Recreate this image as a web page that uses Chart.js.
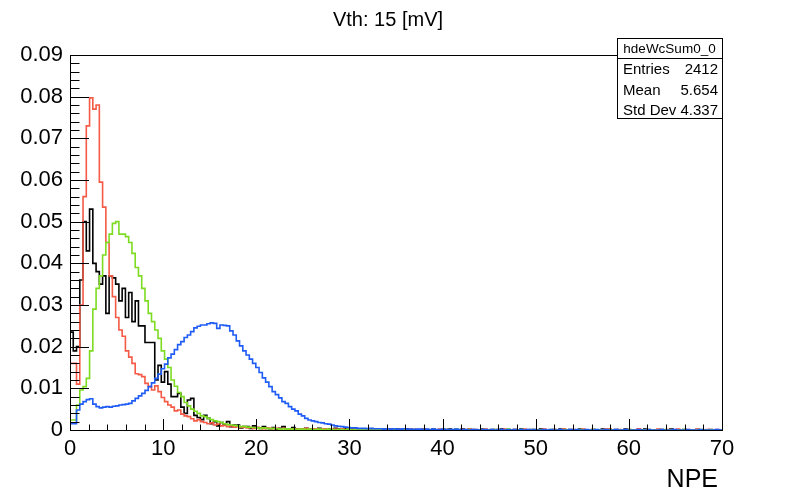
<!DOCTYPE html>
<html>
<head>
<meta charset="utf-8">
<script src="https://cdn.jsdelivr.net/npm/chart.js@4.4.0/dist/chart.umd.min.js"></script>
<style>
  html, body { margin: 0; padding: 0; background: #fff; }
  #wrap { position: relative; width: 786px; height: 492px; }
</style>
</head>
<body>
<div id="wrap"><canvas id="c" width="786" height="492"></canvas></div>
<script>
'use strict';

// histogram binning (200 bins from 0 to 70 NPE)
var binWidth = 0.35;
var xMax = 70;
var yMax = 0.09;

var xTickLabels = ['0', '10', '20', '30', '40', '50', '60', '70'];
var yTickLabels = ['0', '0.01', '0.02', '0.03', '0.04', '0.05', '0.06', '0.07', '0.08', '0.09'];

var statsName = 'hdeWcSum0_0';
var statsLabels = ['Entries', 'Mean', 'Std Dev'];
var statsValues = ['2412', '5.654', '4.337'];

// bin contents
var blackBins = [
	0.0235, 0.019, 0.020, 0.036, 0.050, 0.043, 0.053, 0.040, 0.038, 0.035,
	0.037, 0.028, 0.037, 0.0365, 0.035, 0.031, 0.034, 0.027, 0.033, 0.026,
	0.031, 0.025, 0.025, 0.021, 0.021, 0.021, 0.012, 0.0155, 0.0115, 0.014,
	0.011, 0.008, 0.008, 0.0088, 0.0055, 0.004, 0.0072, 0.0076, 0.0035, 0.003,
	0.0025, 0.0035, 0.0028, 0.0015, 0.002, 0.001, 0.0018, 0.0012, 0.002, 0.0008,
	0.0012, 0.0012, 0.0005, 0.0008, 0.0008, 0.0004, 0.001, 0.0006, 0.0004, 0.0008,
	0.0004, 0.0003, 0.0006, 0.0002, 0.0004, 0.0008, 0.0002, 0.0003, 0.0006, 0.0002,
	0.0003, 0.0002, 0.0004, 0, 0.0003, 0.0002, 0.0004, 0, 0.0002, 0.0003,
	0, 0.0004, 0.0002, 0, 0.0003, 0, 0.0002, 0.0004, 0, 0.0002,
	0, 0.0002, 0, 0.0003, 0, 0, 0.0002, 0, 0.0002, 0,
	0.0002, 0, 0, 0.0002, 0, 0.0001, 0, 0, 0.0002, 0,
	0, 0.0002, 0, 0, 0.0001, 0, 0.0002, 0, 0, 0,
	0.0002, 0, 0, 0.0001, 0, 0, 0.0002, 0, 0, 0.0001,
	0, 0, 0.0002, 0, 0, 0, 0.0001, 0, 0.0002, 0,
	0, 0.0001, 0, 0, 0.0002, 0, 0, 0, 0.0001, 0,
	0.0002, 0, 0, 0.0001, 0, 0, 0.0002, 0, 0, 0,
	0.0001, 0, 0, 0.0002, 0, 0, 0, 0.0001, 0, 0,
	0.0002, 0, 0, 0, 0.0001, 0, 0.0002, 0, 0, 0,
	0, 0.0001, 0, 0, 0.0002, 0, 0, 0, 0.0001, 0,
	0, 0, 0.0001, 0, 0, 0, 0.0001, 0, 0, 0
];

var redBins = [
	0.016, 0.016, 0.011, 0.030, 0.056, 0.073, 0.0797, 0.077, 0.078, 0.0595,
	0.0535, 0.045, 0.037, 0.032, 0.027, 0.024, 0.0225, 0.019, 0.0175, 0.016,
	0.0135, 0.0133, 0.0128, 0.0112, 0.0104, 0.0096, 0.0106, 0.0092, 0.0078, 0.0068,
	0.0060, 0.0055, 0.0046, 0.0048, 0.0038, 0.0034, 0.0032, 0.0027, 0.0022, 0.0025,
	0.0020, 0.0018, 0.0015, 0.0017, 0.0012, 0.0014, 0.0010, 0.0011, 0.0008, 0.0010,
	0.0007, 0.0008, 0.0006, 0.0007, 0.0005, 0.0006, 0.0004, 0.0006, 0.0004, 0.0003,
	0.0005, 0.0004, 0.0003, 0.0004, 0.0002, 0.0004, 0.0003, 0.0002, 0.0003, 0.0002,
	0.0003, 0.0002, 0.0004, 0.0002, 0.0002, 0.0003, 0.0001, 0.0002, 0.0003, 0.0001,
	0.0002, 0.0002, 0.0001, 0.0003, 0.0001, 0.0002, 0.0001, 0.0002, 0.0001, 0.0002,
	0.0001, 0.0001, 0.0003, 0.0001, 0.0001, 0.0002, 0.0001, 0.0001, 0.0002, 0.0001,
	0.0001, 0.0002, 0.0001, 0, 0.0002, 0.0001, 0.0001, 0, 0.0002, 0.0001,
	0, 0.0001, 0, 0.0002, 0, 0.0001, 0, 0, 0.0001, 0,
	0.0001, 0, 0.0003, 0, 0.0001, 0, 0, 0.0002, 0, 0,
	0.0001, 0, 0, 0.0002, 0, 0, 0.0001, 0, 0, 0.0002,
	0, 0, 0.0001, 0, 0, 0.0002, 0, 0, 0.0001, 0,
	0, 0.0003, 0, 0, 0.0001, 0, 0, 0.0002, 0, 0,
	0.0001, 0, 0, 0, 0.0002, 0.0003, 0, 0, 0.0001, 0,
	0, 0.0001, 0, 0, 0.0003, 0, 0, 0.0001, 0, 0,
	0.0002, 0, 0, 0.0001, 0, 0, 0.0002, 0, 0, 0.0001,
	0, 0, 0.0002, 0, 0, 0.0001, 0, 0, 0.0001, 0
];

var greenBins = [
	0.0024, 0.0024, 0.006, 0.0096, 0.0104, 0.0124, 0.019, 0.029, 0.034, 0.037,
	0.042, 0.045, 0.047, 0.0496, 0.050, 0.047, 0.047, 0.0464, 0.045, 0.0424,
	0.039, 0.037, 0.034, 0.031, 0.028, 0.026, 0.024, 0.022, 0.019, 0.017,
	0.015, 0.012, 0.0105, 0.009, 0.008, 0.0066, 0.0058, 0.005, 0.0045, 0.004,
	0.0034, 0.0032, 0.0028, 0.0025, 0.0022, 0.002, 0.0018, 0.0015, 0.0013, 0.0012,
	0.0011, 0.001, 0.0008, 0.0009, 0.0007, 0.0006, 0.0006, 0.0005, 0.0004, 0.0005,
	0.0004, 0.0003, 0.0004, 0.0003, 0.0002, 0.0003, 0.0002, 0.0003, 0.0002, 0.0001,
	0.0002, 0.0002, 0.0001, 0.0002, 0.0001, 0.0001, 0.0002, 0.0001, 0.0001, 0.0002,
	0.0001, 0, 0.0001, 0.0001, 0, 0.0002, 0, 0.0001, 0, 0.0001,
	0, 0.0001, 0, 0, 0.0001, 0, 0.0002, 0, 0, 0.0001,
	0, 0, 0.0001, 0, 0, 0.0001, 0, 0, 0.0001, 0,
	0, 0.0001, 0, 0, 0, 0.0001, 0, 0, 0.0002, 0,
	0, 0, 0.0001, 0, 0, 0, 0.0001, 0, 0, 0,
	0.0001, 0, 0, 0, 0.0002, 0, 0, 0, 0.0001, 0,
	0, 0, 0.0001, 0, 0, 0, 0, 0.0001, 0, 0,
	0, 0.0001, 0, 0, 0, 0, 0.0001, 0, 0, 0,
	0.0001, 0, 0, 0, 0, 0.0001, 0, 0, 0, 0,
	0, 0.0001, 0, 0, 0, 0, 0, 0.0001, 0, 0,
	0, 0, 0.0001, 0, 0, 0, 0, 0, 0.0001, 0,
	0, 0, 0, 0.0001, 0, 0, 0, 0, 0, 0
];

var blueBins = [
	0.0015, 0.0015, 0.0048, 0.0062, 0.0068, 0.0073, 0.0075, 0.0062, 0.0056, 0.0053,
	0.0055, 0.0056, 0.0055, 0.0057, 0.0058, 0.006, 0.0061, 0.0062, 0.0064, 0.007,
	0.0076, 0.0082, 0.0088, 0.0095, 0.0104, 0.0113, 0.0124, 0.0134, 0.0147, 0.0158,
	0.0173, 0.0182, 0.0193, 0.0205, 0.0212, 0.0222, 0.0228, 0.0236, 0.0245, 0.0249,
	0.0252, 0.0252, 0.0255, 0.0257, 0.0256, 0.0244, 0.0252, 0.0251, 0.025, 0.0238,
	0.0228, 0.0214, 0.0202, 0.019, 0.018, 0.017, 0.016, 0.015, 0.0138, 0.0125,
	0.0115, 0.0104, 0.0092, 0.0085, 0.0077, 0.0068, 0.0064, 0.0056, 0.005, 0.0046,
	0.0038, 0.0034, 0.0028, 0.0024, 0.0022, 0.002, 0.0018, 0.0017, 0.0015, 0.0014,
	0.0012, 0.001, 0.0009, 0.0008, 0.0007, 0.0006, 0.0005, 0.0005, 0.0004, 0.0004,
	0.0004, 0.0003, 0.0004, 0.0003, 0.0003, 0.0003, 0.0002, 0.0003, 0.0002, 0.0003,
	0.0002, 0.0002, 0.0003, 0.0002, 0.0002, 0.0001, 0.0002, 0.0002, 0.0001, 0.0002,
	0.0001, 0.0002, 0.0001, 0.0001, 0.0002, 0.0001, 0.0001, 0.0001, 0.0002, 0.0001,
	0.0001, 0.0001, 0, 0.0001, 0.0001, 0, 0.0001, 0.0001, 0, 0.0001,
	0, 0.0001, 0.0001, 0, 0.0001, 0, 0.0001, 0, 0.0001, 0,
	0.0001, 0, 0.0001, 0, 0, 0.0001, 0, 0.0001, 0, 0,
	0.0001, 0, 0, 0.0001, 0, 0.0001, 0, 0, 0.0001, 0,
	0, 0.0001, 0, 0, 0.0001, 0, 0, 0.0001, 0, 0,
	0.0001, 0, 0, 0, 0.0001, 0, 0, 0.0001, 0, 0,
	0, 0.0001, 0, 0, 0, 0.0001, 0, 0, 0, 0.0001,
	0, 0, 0, 0.0001, 0, 0, 0, 0, 0.0001, 0
];

var fontFamily = '"Liberation Sans", Arial, Helvetica, sans-serif';

// bin contents -> points on the lower bin edges, plus the closing edge
function toSteps(bins) {
	var pts = bins.map(function(v, i) {
		return { x: i * binWidth, y: v };
	});
	pts.push({ x: bins.length * binWidth, y: bins[bins.length - 1] });
	return pts;
}

function histDataset(label, bins, color, order) {
	return {
		label: label,
		data: toSteps(bins),
		borderColor: color,
		borderWidth: 1.6,
		stepped: true,
		pointRadius: 0,
		fill: false,
		tension: 0,
		order: order
	};
}

// ROOT-like frame: inward ticks, labels, title and stats box
var rootFrame = {
	id: 'rootFrame',
	afterDatasetsDraw: function(chart) {
		var ctx = chart.ctx;
		var area = chart.chartArea;
		var xs = chart.scales.x;
		var ys = chart.scales.y;
		var i, v, px, py, len;

		ctx.save();
		ctx.strokeStyle = '#000';
		ctx.lineWidth = 1;
		ctx.strokeRect(area.left + 0.5, area.top + 0.5, area.right - area.left, area.bottom - area.top);

		// y ticks every 0.002, major every 0.01
		for (i = 0; i <= 45; i++) {
			v = i * 0.002;
			py = Math.round(ys.getPixelForValue(v)) + 0.5;
			len = (i % 5 === 0) ? 19 : 9.5;
			ctx.beginPath();
			ctx.moveTo(area.left, py);
			ctx.lineTo(area.left + len, py);
			ctx.stroke();
		}
		// x ticks every 2, major every 10
		for (i = 0; i <= 35; i++) {
			v = i * 2;
			px = Math.round(xs.getPixelForValue(v)) + 0.5;
			len = (i % 5 === 0) ? 11 : 5.5;
			ctx.beginPath();
			ctx.moveTo(px, area.bottom);
			ctx.lineTo(px, area.bottom - len);
			ctx.stroke();
		}

		ctx.fillStyle = '#000';
		ctx.font = '22px ' + fontFamily;
		ctx.textAlign = 'right';
		ctx.textBaseline = 'middle';
		yTickLabels.forEach(function(t) {
			ctx.fillText(t, area.left - 7, ys.getPixelForValue(parseFloat(t)));
		});

		ctx.textAlign = 'center';
		ctx.textBaseline = 'alphabetic';
		xTickLabels.forEach(function(t) {
			ctx.fillText(t, xs.getPixelForValue(parseFloat(t)), 455);
		});

		ctx.font = '25px ' + fontFamily;
		ctx.textAlign = 'right';
		ctx.fillText('NPE', 718, 487);

		ctx.font = '20px ' + fontFamily;
		ctx.textAlign = 'center';
		ctx.fillText('Vth: 15 [mV]', 388, 26);

		// stats box
		var bx = 617, by = 38, bw = 105, bh = 80;
		ctx.fillStyle = '#fff';
		ctx.fillRect(bx, by, bw, bh);
		ctx.strokeRect(bx + 0.5, by + 0.5, bw, bh);
		ctx.beginPath();
		ctx.moveTo(bx, by + 20.5);
		ctx.lineTo(bx + bw, by + 20.5);
		ctx.stroke();

		ctx.fillStyle = '#000';
		ctx.font = '13.5px ' + fontFamily;
		ctx.textBaseline = 'middle';
		ctx.textAlign = 'center';
		ctx.fillText(statsName, bx + bw / 2, by + 11);
		ctx.font = '15px ' + fontFamily;
		statsLabels.forEach(function(lab, k) {
			var yy = by + 32 + k * 20.5;
			ctx.textAlign = 'left';
			ctx.fillText(lab, bx + 6, yy);
			ctx.textAlign = 'right';
			ctx.fillText(statsValues[k], bx + bw - 4, yy);
		});
		ctx.restore();
	}
};

var chart = new Chart(document.getElementById('c'), {
	type: 'line',
	data: {
		datasets: [
			histDataset('hdeWcSum0_0', blackBins, '#000000', 3),
			histDataset('red', redBins, '#f45a45', 2),
			histDataset('green', greenBins, '#7ddc22', 1),
			histDataset('blue', blueBins, '#1f5cf5', 0)
		]
	},
	options: {
		responsive: false,
		animation: false,
		devicePixelRatio: 1,
		layout: {
			padding: { left: 70, top: 55, right: 64, bottom: 62 }
		},
		scales: {
			x: { type: 'linear', min: 0, max: xMax, display: false },
			y: { type: 'linear', min: 0, max: yMax, display: false }
		},
		plugins: {
			legend: { display: false },
			tooltip: { enabled: false }
		}
	},
	plugins: [ rootFrame ]
});
</script>
</body>
</html>
